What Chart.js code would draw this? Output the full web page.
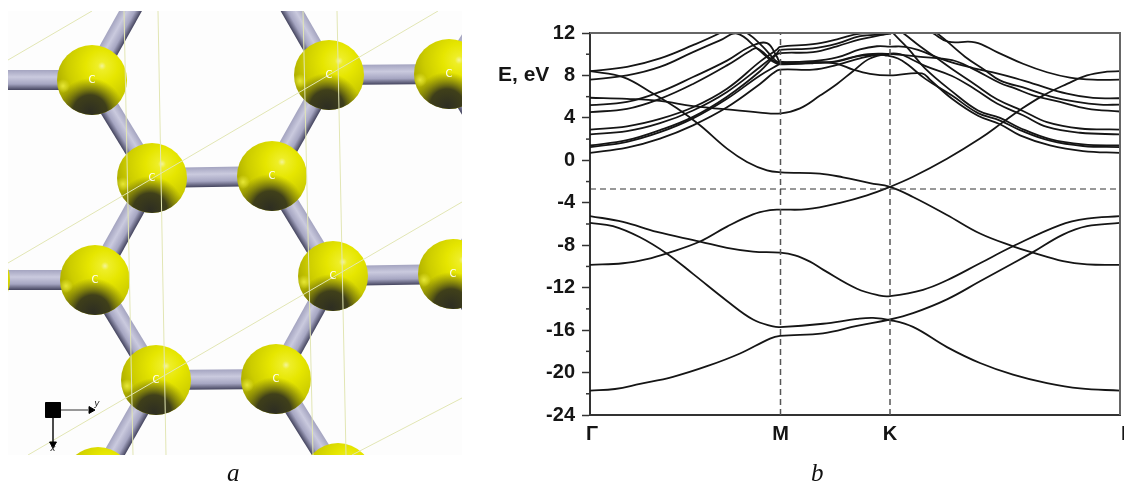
<!DOCTYPE html>
<html>
<head>
<meta charset="utf-8">
<title>Graphene structure and band diagram</title>
<script src="https://cdn.jsdelivr.net/npm/chart.js@4"></script>
<style>
    html, body { margin: 0; padding: 0; background: #fff; overflow: hidden; }
    #page { position: relative; width: 1124px; height: 489px; overflow: hidden; }
    canvas { position: absolute; display: block; }
    #bands { left: 0; top: 0; }
    #lattice { left: 8px; top: 11px; }
    .caption { position: absolute; top: 459px; font: italic 25px "Liberation Serif", serif; color: #111; }
</style>
</head>
<body>
<div id="page">
    <canvas id="bands" width="1124" height="489"></canvas>
    <canvas id="lattice" width="454" height="444"></canvas>
    <span class="caption" style="left:227px">a</span>
    <span class="caption" style="left:811px">b</span>
</div>
<script>
// --- panel b: band diagram, k runs along the path Γ-M-K-Γ ---
const kM = 190.5;
const kK = 300;
// the outer Γ labels sit a little off the ends of the path in the picture
const kTickValues = [2, kM, kK, 537];
const kTickLabels = ['Γ', 'M', 'K', 'Γ'];
const energyMajorStep = 4;
const energyMinorTicks = [10, 6, 2, -2, -6, -10, -14, -18, -22];
const fermiLevel = -2.7;

// valence bands
const kA = [0, 25, 50, 83, 117, 150, 180, 190, 233, 267, 300, 323, 357, 390, 423, 443, 473, 497, 530];
const eA = [-21.7, -21.55, -21.07, -20.4, -19.4, -18.2, -16.8, -16.55, -16.3, -15.6, -15.0, -14.4, -13.1, -11.4, -9.7, -8.65, -7.0, -6.2, -5.9];
const kB = [0, 23, 50, 77, 103, 137, 163, 183, 190, 233, 267, 283, 300, 323, 357, 390, 423, 457, 490, 530];
const eB = [-5.9, -6.2, -7.25, -8.8, -10.7, -13.25, -15, -15.65, -15.72, -15.4, -14.95, -14.85, -15.05, -15.7, -17.6, -19.1, -20.2, -21, -21.5, -21.7];
const kC = [0, 33, 67, 110, 137, 163, 190, 205, 220, 233, 267, 290, 300, 333, 357, 390, 423, 470, 497, 530];
const eC = [-5.25, -5.8, -6.75, -7.65, -8.25, -8.6, -8.7, -8.95, -9.55, -10.3, -12.1, -12.75, -12.8, -12.2, -11.3, -9.7, -8.1, -6.1, -5.5, -5.25];
const kD = [0, 33, 57, 77, 110, 137, 163, 180, 190, 217, 250, 277, 300, 323, 357, 390, 413, 430, 453, 477, 497, 517, 530];
const eD = [-9.85, -9.7, -9.3, -8.76, -7.65, -6.25, -5.1, -4.7, -4.65, -4.6, -4.0, -3.3, -2.5, -1.55, 0.15, 2.05, 3.6, 4.75, 6.1, 7.2, 8.0, 8.35, 8.4];

// conduction bands
const kE = [0, 33, 63, 87, 110, 137, 157, 177, 191, 230, 253, 280, 300, 323, 357, 390, 423, 443, 473, 497, 530];
const eE = [8.4, 7.85, 6.3, 4.9, 3.3, 1.1, -0.15, -0.95, -1.13, -1.25, -1.6, -2.15, -2.5, -3.45, -5.15, -6.9, -8.1, -8.7, -9.5, -9.8, -9.85];
const kF = [0, 37, 70, 103, 137, 170, 191, 210, 230, 247, 263, 280, 300, 310, 320, 335, 362, 385, 407, 433, 457, 490, 530];
const eF = [5.9, 5.8, 5.6, 5.1, 4.8, 4.5, 4.43, 4.9, 6.1, 7.2, 8.4, 9.6, 10.05, 10, 9.6, 8.9, 7.95, 6.7, 5.35, 4.25, 3.15, 2.6, 2.45];
const kG = [0, 37, 70, 103, 130, 140, 157, 173, 185, 190, 223, 247, 270, 287, 300, 315, 328, 357, 383, 407, 425, 443, 477, 503, 530];
const eG = [8.4, 8.8, 9.6, 10.85, 12.0, 12.6, 12.0, 10.7, 9.45, 9.25, 9.35, 9.7, 10.45, 10.75, 10.72, 10.7, 10.4, 9.37, 8.7, 8.2, 7.75, 7.23, 6.28, 5.88, 5.85];
const kH = [0, 37, 70, 103, 130, 147, 167, 182, 190, 223, 247, 270, 300];
const eH = [7.6, 8.0, 8.8, 10.2, 11.3, 11.95, 10.55, 9.35, 9.05, 9.2, 9.3, 9.85, 10.0];
const kI = [0, 37, 70, 103, 137, 160, 177, 187, 190, 223, 247, 263, 280, 300, 332, 340, 362, 388, 410, 430, 460, 493, 530];
const eI = [5.2, 5.5, 6.45, 7.85, 9.4, 10.7, 11.05, 9.75, 9.3, 9.3, 9.1, 8.55, 8.15, 8.0, 8.2, 7.6, 5.8, 4.2, 3.4, 2.35, 1.4, 0.87, 0.7];
const kJ = [0, 37, 70, 103, 137, 160, 167, 183, 190, 223, 247, 270, 290, 305, 328, 362, 382, 410, 425, 443, 470, 497, 530];
const eJ = [4.55, 4.85, 5.8, 7.2, 8.95, 10.3, 10.55, 9.4, 9.15, 9.15, 9.35, 9.9, 10.05, 9.99, 9.77, 9.45, 8.67, 7.29, 6.78, 6.13, 5.5, 4.87, 4.6];
const kL = [0, 37, 70, 103, 137, 170, 187, 190, 223, 247, 270, 300, 315, 330, 343, 358, 385, 407, 433, 457, 480, 503, 530];
const eL = [2.9, 3.2, 3.9, 5, 6.75, 9.3, 10.45, 10.7, 10.95, 11.4, 11.95, 12.0, 12.6, 12.6, 11.97, 11.18, 11.12, 10.2, 9.1, 8.3, 7.8, 7.6, 7.6];
const kN = [0, 37, 70, 103, 137, 170, 187, 190, 223, 247, 270, 300, 320, 335, 347, 375, 395, 410, 437, 460, 487, 510, 530];
const eN = [2.45, 2.75, 3.5, 4.7, 6.45, 8.8, 10.1, 10.4, 10.55, 11, 11.7, 11.95, 12.6, 12.5, 11.97, 9.77, 8.5, 7.54, 6.75, 6.03, 5.5, 5.25, 5.25];
const kO = [0, 37, 70, 103, 137, 170, 185, 190, 223, 247, 270, 300, 306, 313, 330, 345, 362, 385, 407, 433, 457, 490, 530];
const eO = [1.4, 1.9, 2.85, 4.1, 6, 8.4, 9.85, 10.1, 10.2, 10.75, 11.4, 12, 12.4, 12, 10.75, 9.75, 8.6, 7.15, 5.75, 4.65, 3.6, 3.0, 2.9];
const kP = [0, 37, 70, 103, 137, 170, 190];
const eP = [1.25, 1.75, 2.65, 3.95, 5.8, 8.0, 9.1];
const kQ = [0, 37, 70, 103, 137, 170, 183, 190, 223, 247, 270, 287, 295, 308, 318, 335, 362, 388, 410, 430, 460, 493, 530];
const eQ = [0.7, 1.2, 2.05, 3.3, 5, 7.2, 8.2, 8.55, 8.55, 9, 9.6, 9.95, 9.9, 9.6, 9.0, 7.7, 6.1, 4.45, 3.75, 2.85, 1.85, 1.35, 1.25];
const kR = [290, 303, 318, 335, 362, 388, 410, 430, 460, 493, 530];
const eR = [13.4, 12, 10.55, 8.67, 6.5, 4.7, 4.0, 3.05, 2.0, 1.5, 1.4];

const bandPairs = [[kA, eA], [kB, eB], [kC, eC], [kD, eD], [kE, eE], [kF, eF], [kG, eG], [kH, eH],
    [kI, eI], [kJ, eJ], [kL, eL], [kN, eN], [kO, eO], [kP, eP], [kQ, eQ], [kR, eR]];

// --- panel a: atoms of the honeycomb sheet, last entries are only bond ends off the picture ---
const nodeX = [92, 329, 449, 152, 272, 95, 333, 453, 156, 276, 150, -25, 98, 338, -25, 272, 510, 510, 510];
const nodeY = [80, 75, 74, 178, 176, 280, 276, 274, 380, 379, -24, 280, 482, 478, 80, -24, -24, 175, 375];
const atomCount = 14;
const labelledAtoms = [0, 1, 2, 3, 4, 5, 6, 7, 8, 9];
const atomLabel = 'C';
const bondFrom = [0, 0, 0, 3, 4, 1, 1, 4, 6, 3, 5, 5, 6, 8, 8, 9, 2, 2, 7, 7];
const bondTo = [14, 10, 3, 4, 1, 2, 15, 6, 7, 5, 11, 8, 9, 9, 12, 13, 16, 17, 17, 18];
// unit cell frame
const cellLines = [
    [[124, 11], [133, 455]], [[158, 11], [166, 455]], [[303, 11], [313, 455]], [[337, 11], [346, 455]],
    [[8, 60], [92, 11]], [[8, 263], [438, 11]], [[28, 455], [462, 202]], [[352, 455], [462, 398]]
];
const axisY = [[61, 410], [88, 410]];
const axisX = [[53, 418], [53, 442]];

const BLACK = '#151515';

function bandDatasets() {
    return bandPairs.map(([k, e]) => ({
        data: k.map((v, i) => ({ x: v, y: e[i] })),
        borderColor: BLACK,
        borderWidth: 1.8,
        pointRadius: 0,
        tension: 0.4,
        order: 1
    }));
}

function dashed(points, color, width) {
    return { data: points, borderColor: color, borderWidth: width, borderDash: [6, 4], pointRadius: 0, order: 0 };
}

// frame, minor ticks and the "E, eV" label are not something an axis gives us
const bandExtras = {
    id: 'bandExtras',
    afterDraw(chart) {
        const { ctx, chartArea: a, scales } = chart;
        ctx.save();
        ctx.strokeStyle = '#666';
        ctx.lineWidth = 2;
        ctx.beginPath();
        ctx.moveTo(a.left, a.top);
        ctx.lineTo(a.right, a.top);
        ctx.lineTo(a.right, a.bottom);
        ctx.stroke();
        ctx.strokeStyle = '#333';
        ctx.lineWidth = 1.5;
        energyMinorTicks.forEach(v => {
            const y = scales.y.getPixelForValue(v);
            ctx.beginPath();
            ctx.moveTo(a.left - 4, y);
            ctx.lineTo(a.left, y);
            ctx.stroke();
        });
        ctx.fillStyle = BLACK;
        ctx.font = 'bold 21px "Liberation Sans", sans-serif';
        ctx.textBaseline = 'middle';
        ctx.textAlign = 'left';
        ctx.fillText('E, eV', 498, 75);
        ctx.restore();
    }
};

new Chart(document.getElementById('bands'), {
    type: 'line',
    data: {
        datasets: [
            dashed([{ x: 0, y: fermiLevel }, { x: 530, y: fermiLevel }], '#333', 1.2),
            dashed([{ x: kM, y: -24 }, { x: kM, y: 12 }], '#555', 1.5),
            dashed([{ x: kK, y: -24 }, { x: kK, y: 12 }], '#555', 1.5),
            ...bandDatasets()
        ]
    },
    options: {
        responsive: false,
        animation: false,
        events: [],
        layout: { padding: { left: 0, right: 4, top: 33, bottom: 0 }, autoPadding: false },
        elements: { line: { capBezierPoints: false } },
        plugins: { legend: { display: false }, tooltip: { enabled: false } },
        scales: {
            x: {
                type: 'linear',
                min: 0,
                max: 530,
                afterBuildTicks: s => { s.ticks = kTickValues.map(v => ({ value: v })); },
                afterFit: s => { s.height = 74; s.paddingLeft = 0; s.paddingRight = 0; },
                grid: { drawOnChartArea: false, drawTicks: false },
                border: { color: '#333', width: 2 },
                ticks: {
                    autoSkip: false,
                    maxRotation: 0,
                    padding: 7,
                    color: BLACK,
                    font: { family: '"Liberation Sans", sans-serif', size: 20, weight: 'bold' },
                    callback: (v, i) => kTickLabels[i]
                }
            },
            y: {
                min: -24,
                max: 12,
                afterFit: s => { s.width = 590; },
                grid: { drawOnChartArea: false, tickLength: 8, tickColor: '#333', tickWidth: 1.5 },
                border: { color: '#333', width: 2 },
                ticks: {
                    stepSize: energyMajorStep,
                    padding: 7,
                    color: BLACK,
                    font: { family: '"Liberation Sans", sans-serif', size: 20, weight: 'bold' }
                }
            }
        }
    },
    plugins: [bandExtras]
});

// --- molecule drawing helpers ---
function atomFill(stops, dx, dy, radius) {
    return ctx => {
        if (ctx.type !== 'data') return stops[0][1];
        const s = ctx.chart.scales;
        const x = s.x.getPixelForValue(nodeX[ctx.dataIndex]) + dx;
        const y = s.y.getPixelForValue(nodeY[ctx.dataIndex]) + dy;
        // options get resolved once before the layout has run
        if (!Number.isFinite(x) || !Number.isFinite(y)) return stops[0][1];
        const g = ctx.chart.ctx.createRadialGradient(x, y, 0, x, y, radius);
        stops.forEach(([p, c]) => g.addColorStop(p, c));
        return g;
    };
}

function atomLayer(stops, dx, dy, radius, order) {
    const fill = atomFill(stops, dx, dy, radius);
    return {
        type: 'bubble',
        data: nodeX.slice(0, atomCount).map((x, i) => ({ x, y: nodeY[i], r: 35 })),
        backgroundColor: fill,
        borderWidth: 0,
        order
    };
}

// shading across the bond width, so it reads as a cylinder
function bondFill(a, b) {
    return ctx => {
        const s = ctx.chart.scales;
        if (!s.x || !ctx.chart.chartArea) return '#aaaac4';
        const ax = s.x.getPixelForValue(nodeX[a]), ay = s.y.getPixelForValue(nodeY[a]);
        const bx = s.x.getPixelForValue(nodeX[b]), by = s.y.getPixelForValue(nodeY[b]);
        if (!Number.isFinite(ax) || !Number.isFinite(by)) return '#aaaac4';
        const len = Math.hypot(bx - ax, by - ay);
        let nx = -(by - ay) / len, ny = (bx - ax) / len;
        if (ny < 0 || (ny === 0 && nx < 0)) { nx = -nx; ny = -ny; }
        const mx = (ax + bx) / 2, my = (ay + by) / 2;
        const g = ctx.chart.ctx.createLinearGradient(mx - nx * 10, my - ny * 10, mx + nx * 10, my + ny * 10);
        g.addColorStop(0, '#a4a4c0');
        g.addColorStop(0.35, '#cacade');
        g.addColorStop(0.7, '#a6a6c2');
        g.addColorStop(1, '#44445e');
        return g;
    };
}

const bondDatasets = bondFrom.map((a, i) => ({
    data: [{ x: nodeX[a], y: nodeY[a] }, { x: nodeX[bondTo[i]], y: nodeY[bondTo[i]] }],
    borderColor: bondFill(a, bondTo[i]),
    borderWidth: 20,
    borderCapStyle: 'butt',
    pointRadius: 0,
    order: 9
}));

const cellDatasets = cellLines.map(line => ({
    data: line.map(([x, y]) => ({ x, y })),
    borderColor: '#e2e6b4',
    borderWidth: 1,
    pointRadius: 0,
    order: 2
}));

const axisLine = pts => ({
    data: pts.map(([x, y]) => ({ x, y })), borderColor: '#333', borderWidth: 1, pointRadius: 0, order: 1
});
const axisMark = (pt, style, radius, rotation) => ({
    data: [{ x: pt[0], y: pt[1] }], showLine: false, pointStyle: style, pointRadius: radius, pointRotation: rotation,
    backgroundColor: '#000', borderColor: '#000', order: 0
});

const latticeLabels = {
    id: 'latticeLabels',
    afterDatasetsDraw(chart) {
        const { ctx, scales } = chart;
        ctx.save();
        ctx.textAlign = 'center';
        ctx.textBaseline = 'middle';
        ctx.fillStyle = '#fff';
        ctx.font = '10px "DejaVu Sans", sans-serif';
        labelledAtoms.forEach(i => {
            ctx.fillText(atomLabel, scales.x.getPixelForValue(nodeX[i]), scales.y.getPixelForValue(nodeY[i]));
        });
        ctx.fillStyle = '#222';
        ctx.font = 'italic 9px "DejaVu Sans", sans-serif';
        ctx.fillText('y', scales.x.getPixelForValue(97), scales.y.getPixelForValue(404));
        ctx.fillText('x', scales.x.getPixelForValue(53), scales.y.getPixelForValue(449));
        ctx.restore();
    }
};

new Chart(document.getElementById('lattice'), {
    type: 'line',
    data: {
        datasets: [
            axisMark([53, 410], 'rect', 10.6, 0),
            axisMark([91, 410], 'triangle', 4, 90),
            axisMark([53, 444], 'triangle', 4, 180),
            axisLine(axisY),
            axisLine(axisX),
            ...cellDatasets,
            atomLayer([[0, 'rgba(236,236,60,0.9)'], [1, 'rgba(236,236,60,0)']], -29, 6, 7, 3),
            atomLayer([[0, 'rgba(46,46,34,1)'], [0.5, 'rgba(52,52,28,0.92)'], [0.8, 'rgba(90,90,16,0.4)'], [1, 'rgba(110,110,10,0)']], -2, 32, 34, 4),
            atomLayer([[0, '#f4f49a'], [0.07, '#eeee28'], [0.28, '#e6e600'], [0.6, '#cccc00'], [0.85, '#aaaa00'], [1, '#989800']], 10, -14, 58, 5),
            ...bondDatasets
        ]
    },
    options: {
        responsive: false,
        animation: false,
        events: [],
        layout: { padding: 0, autoPadding: false },
        plugins: { legend: { display: false }, tooltip: { enabled: false } },
        scales: {
            x: { type: 'linear', min: 8, max: 462, display: false },
            y: { type: 'linear', min: 11, max: 455, reverse: true, display: false }
        }
    },
    plugins: [
        {
            id: 'latticeBackground',
            beforeDraw(chart) {
                chart.ctx.fillStyle = '#fdfdfd';
                chart.ctx.fillRect(0, 0, chart.width, chart.height);
            }
        },
        latticeLabels
    ]
});
</script>
</body>
</html>
